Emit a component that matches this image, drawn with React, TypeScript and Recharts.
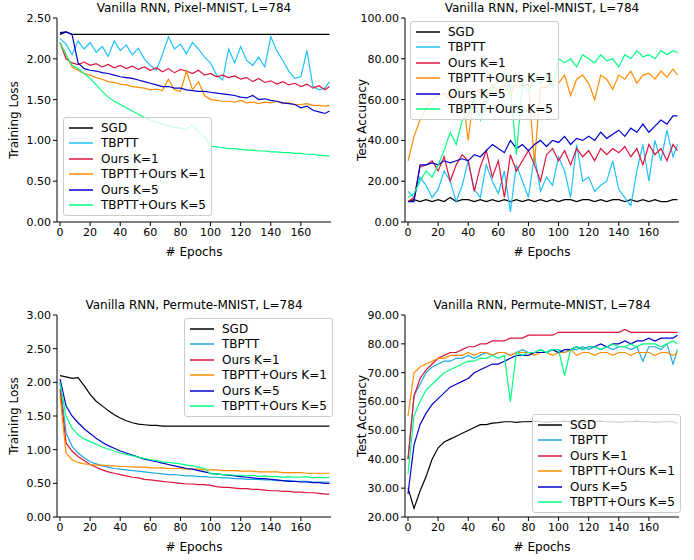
import React from 'react';
import { LineChart, Line, XAxis, YAxis, Legend } from 'recharts';

// epochs sampled every 4, plus last epoch
const EPOCHS = Array.from({ length: 45 }, (_, i) => i * 4).concat(179);
const SERIES_NAMES = ['SGD', 'TBPTT', 'Ours K=1', 'TBPTT+Ours K=1', 'Ours K=5', 'TBPTT+Ours K=5'];
const COLORS = ['#000000', '#1ec0ff', '#dc143c', '#ff8c00', '#0000cd', '#00ff7f'];
const COLORS_B = ['#000000', '#1fa8e0', '#dc143c', '#ff8c00', '#0000cd', '#00ff7f'];

// Pixel-MNIST training loss
const pmLossSgd = [2.30, 2.33, 2.30, 2.30, 2.30, 2.30, 2.30, 2.30, 2.30, 2.30, 2.30, 2.30, 2.30, 2.30, 2.30, 2.30, 2.30, 2.30, 2.30, 2.30, 2.30, 2.30, 2.30, 2.30, 2.30, 2.30, 2.30, 2.30, 2.30, 2.30, 2.30, 2.30, 2.30, 2.30, 2.30, 2.30, 2.30, 2.30, 2.30, 2.30, 2.30, 2.30, 2.30, 2.30, 2.30, 2.30];
const pmLossTbptt = [2.25, 2.18, 2.05, 2.22, 2.12, 2.20, 2.08, 2.15, 2.03, 2.22, 2.10, 2.17, 2.05, 2.13, 2.00, 1.92, 1.86, 2.05, 2.27, 2.12, 2.18, 2.06, 2.20, 2.12, 2.02, 1.95, 1.80, 1.74, 2.12, 1.95, 2.15, 1.98, 1.92, 2.02, 1.90, 2.27, 2.10, 1.98, 1.85, 1.76, 1.78, 2.10, 1.66, 1.62, 1.64, 1.72];
const pmLossOurs1 = [2.20, 2.00, 1.95, 1.93, 1.96, 1.92, 1.94, 1.90, 1.93, 1.89, 1.92, 1.88, 1.91, 1.87, 1.90, 1.86, 1.89, 1.84, 1.88, 1.83, 1.87, 1.85, 1.82, 1.86, 1.80, 1.82, 1.78, 1.80, 1.77, 1.79, 1.75, 1.77, 1.72, 1.76, 1.71, 1.73, 1.69, 1.72, 1.68, 1.70, 1.66, 1.69, 1.64, 1.67, 1.62, 1.66];
const pmLossTo1 = [2.20, 2.05, 1.90, 1.86, 1.82, 1.80, 1.77, 1.75, 1.72, 1.71, 1.69, 1.68, 1.66, 1.65, 1.64, 1.62, 1.63, 1.61, 1.75, 1.62, 1.60, 1.85, 1.62, 1.72, 1.55, 1.50, 1.49, 1.48, 1.48, 1.47, 1.49, 1.46, 1.47, 1.45, 1.47, 1.46, 1.48, 1.45, 1.46, 1.44, 1.44, 1.45, 1.43, 1.43, 1.42, 1.43];
const pmLossOurs5 = [2.32, 2.33, 2.30, 1.95, 1.88, 1.86, 1.85, 1.83, 1.82, 1.80, 1.78, 1.77, 1.76, 1.74, 1.72, 1.70, 1.68, 1.66, 1.66, 1.64, 1.64, 1.62, 1.61, 1.60, 1.60, 1.59, 1.58, 1.57, 1.56, 1.55, 1.53, 1.52, 1.55, 1.50, 1.51, 1.49, 1.48, 1.46, 1.45, 1.44, 1.40, 1.42, 1.37, 1.35, 1.33, 1.36];
const pmLossTo5 = [2.20, 2.05, 1.92, 1.88, 1.82, 1.76, 1.68, 1.60, 1.53, 1.48, 1.44, 1.40, 1.36, 1.32, 1.28, 1.25, 1.22, 1.20, 1.18, 1.16, 1.15, 1.13, 1.20, 1.10, 1.05, 0.93, 0.92, 0.91, 0.90, 0.90, 0.89, 0.88, 0.88, 0.87, 0.87, 0.86, 0.86, 0.85, 0.85, 0.84, 0.84, 0.83, 0.83, 0.82, 0.81, 0.81];

// Pixel-MNIST test accuracy
const pmAccSgd = [10, 11, 10, 11, 10, 11, 10, 12, 10, 11, 11, 10, 11, 10, 11, 10, 11, 10, 11, 10, 11, 10, 11, 10, 11, 10, 11, 11, 10, 11, 11, 10, 11, 10, 11, 11, 10, 11, 10, 11, 10, 11, 10, 10, 11, 11];
const pmAccTbptt = [15, 12, 22, 18, 12, 16, 25, 20, 10, 18, 30, 16, 12, 28, 20, 14, 25, 5, 28, 20, 12, 33, 15, 22, 18, 32, 25, 12, 38, 20, 22, 15, 18, 20, 30, 16, 12, 8, 25, 38, 20, 40, 30, 45, 32, 38];
const pmAccOurs1 = [10, 12, 27, 28, 30, 25, 32, 20, 28, 33, 30, 15, 27, 35, 22, 30, 12, 33, 25, 30, 35, 28, 20, 33, 36, 30, 35, 28, 36, 32, 35, 30, 36, 33, 36, 34, 37, 32, 36, 28, 38, 33, 36, 30, 38, 35];
const pmAccTo1 = [30, 42, 50, 56, 60, 62, 63, 60, 66, 63, 40, 64, 65, 62, 67, 64, 68, 62, 70, 66, 68, 29, 66, 66, 70, 68, 72, 62, 70, 72, 68, 60, 72, 70, 65, 72, 70, 74, 68, 72, 73, 70, 74, 71, 75, 72];
const pmAccOurs5 = [10, 10, 28, 28, 29, 28, 30, 29, 30, 31, 30, 33, 32, 35, 38, 36, 34, 40, 36, 38, 35, 38, 40, 37, 40, 39, 42, 38, 41, 40, 42, 40, 44, 41, 43, 45, 42, 46, 44, 48, 44, 47, 50, 48, 52, 52];
const pmAccTo5 = [12, 14, 20, 25, 22, 28, 35, 44, 38, 50, 52, 60, 50, 58, 65, 70, 73, 66, 33, 68, 64, 70, 68, 72, 66, 80, 78, 80, 76, 82, 80, 78, 82, 79, 80, 76, 82, 80, 84, 81, 82, 80, 84, 82, 84, 83];

// Permute-MNIST training loss
const prLossSgd = [2.10, 2.08, 2.06, 2.07, 1.95, 1.82, 1.72, 1.65, 1.58, 1.52, 1.47, 1.43, 1.40, 1.38, 1.37, 1.36, 1.36, 1.35, 1.35, 1.35, 1.35, 1.35, 1.35, 1.35, 1.35, 1.35, 1.35, 1.35, 1.35, 1.35, 1.35, 1.35, 1.35, 1.35, 1.35, 1.35, 1.35, 1.35, 1.35, 1.35, 1.35, 1.35, 1.35, 1.35, 1.35, 1.35];
const prLossTbptt = [2.00, 1.25, 1.05, 0.95, 0.88, 0.82, 0.79, 0.76, 0.74, 0.72, 0.71, 0.70, 0.69, 0.68, 0.67, 0.66, 0.65, 0.64, 0.63, 0.63, 0.62, 0.61, 0.61, 0.60, 0.60, 0.59, 0.59, 0.58, 0.58, 0.57, 0.57, 0.56, 0.56, 0.56, 0.55, 0.55, 0.54, 0.54, 0.54, 0.53, 0.53, 0.53, 0.52, 0.52, 0.52, 0.52];
const prLossOurs1 = [1.90, 1.10, 0.98, 0.90, 0.84, 0.78, 0.74, 0.70, 0.67, 0.65, 0.63, 0.61, 0.59, 0.58, 0.56, 0.55, 0.54, 0.53, 0.52, 0.51, 0.50, 0.49, 0.49, 0.48, 0.48, 0.47, 0.45, 0.44, 0.44, 0.43, 0.42, 0.42, 0.41, 0.41, 0.40, 0.39, 0.39, 0.38, 0.38, 0.37, 0.37, 0.36, 0.36, 0.35, 0.34, 0.34];
const prLossTo1 = [1.80, 0.95, 0.85, 0.81, 0.79, 0.78, 0.77, 0.77, 0.76, 0.76, 0.75, 0.75, 0.74, 0.74, 0.74, 0.73, 0.73, 0.73, 0.72, 0.72, 0.72, 0.71, 0.71, 0.71, 0.70, 0.70, 0.70, 0.69, 0.69, 0.69, 0.68, 0.68, 0.68, 0.67, 0.67, 0.67, 0.67, 0.66, 0.66, 0.66, 0.66, 0.65, 0.65, 0.65, 0.65, 0.65];
const prLossOurs5 = [2.05, 1.65, 1.50, 1.40, 1.31, 1.24, 1.17, 1.11, 1.06, 1.02, 0.98, 0.95, 0.92, 0.89, 0.86, 0.84, 0.82, 0.80, 0.78, 0.76, 0.74, 0.72, 0.71, 0.69, 0.67, 0.65, 0.64, 0.63, 0.62, 0.61, 0.60, 0.59, 0.58, 0.57, 0.57, 0.56, 0.55, 0.54, 0.53, 0.53, 0.52, 0.52, 0.51, 0.51, 0.50, 0.50];
const prLossTo5 = [2.00, 1.50, 1.32, 1.22, 1.16, 1.12, 1.08, 1.04, 1.01, 0.98, 0.95, 0.93, 0.91, 0.89, 0.87, 0.85, 0.84, 0.82, 0.81, 0.80, 0.79, 0.77, 0.76, 0.74, 0.72, 0.64, 0.64, 0.63, 0.63, 0.62, 0.62, 0.61, 0.62, 0.60, 0.61, 0.60, 0.60, 0.59, 0.60, 0.59, 0.59, 0.60, 0.58, 0.59, 0.58, 0.59];

// Permute-MNIST test accuracy
const prAccSgd = [30, 23, 29, 34, 40, 44, 46, 47, 48, 49, 50, 51, 52, 52, 52.5, 52.7, 53, 53, 52.8, 53, 53, 53.2, 53, 52.8, 53, 53, 53.2, 53, 53, 52.8, 53, 53, 53.2, 53, 53, 52.8, 53, 53, 53.2, 53, 53, 52.8, 53, 53, 53, 52.5];
const prAccTbptt = [40, 62, 66, 70, 72, 73, 74, 74, 75, 75, 76, 75, 76, 77, 76, 77, 77, 76, 77, 78, 77, 77, 78, 77, 78, 78, 77, 78, 78, 79, 78, 79, 78, 79, 78, 79, 79, 78, 79, 74, 79, 79, 78, 80, 73, 78];
const prAccOurs1 = [40, 62, 68, 71, 73, 75, 76, 77, 77, 78, 79, 79, 80, 80, 81, 81, 81, 82, 82, 82, 83, 83, 83, 83, 83, 84, 84, 84, 84, 84, 84, 84, 84, 84, 84, 84, 85, 84, 84, 84, 84, 84, 84, 84, 84, 84];
const prAccTo1 = [55, 70, 72, 73, 74, 75, 75, 76, 76, 76, 77, 76, 77, 77, 76, 77, 77, 76, 77, 77, 77, 76, 77, 77, 76, 77, 77, 78, 76, 77, 77, 76, 77, 77, 76, 77, 77, 76, 77, 77, 77, 76, 77, 77, 76, 77];
const prAccOurs5 = [28, 45, 52, 56, 59, 61, 63, 65, 66, 67, 68, 70, 71, 72, 73, 73, 74, 75, 76, 76, 76, 77, 77, 77, 78, 77, 78, 78, 79, 78, 79, 79, 80, 79, 80, 80, 81, 80, 81, 81, 82, 81, 82, 82, 82, 83];
const prAccTo5 = [35, 55, 60, 64, 66, 68, 70, 71, 72, 73, 74, 74, 75, 75, 76, 75, 76, 60, 77, 76, 77, 77, 78, 77, 78, 78, 69, 78, 79, 78, 79, 79, 78, 79, 80, 79, 79, 80, 79, 80, 80, 80, 79, 80, 81, 80];

const X_TICKS = [0, 20, 40, 60, 80, 100, 120, 140, 160];
const FONT = 'DejaVu Sans, sans-serif';

const buildRows = (series: number[][]) =>
  EPOCHS.map((e, i) => {
    const row: Record<string, number> = { epoch: e };
    series.forEach((s, k) => { row[SERIES_NAMES[k]] = s[i]; });
    return row;
  });

const LegendBox = ({ colors }: { colors: string[] }) => (
  <div style={{
    border: '1px solid #cccccc', borderRadius: 3, background: 'rgba(255,255,255,0.8)',
    padding: '2px 5px 2px 5px', fontFamily: FONT, fontSize: 12, color: '#000', whiteSpace: 'nowrap',
  }}>
    {SERIES_NAMES.map((n, k) => (
      <div key={n} style={{ display: 'flex', alignItems: 'center', height: 15.5 }}>
        <svg width={24} height={6} style={{ marginRight: 8 }}>
          <line x1={0} y1={3} x2={24} y2={3} stroke={colors[k]} strokeWidth={1.5} />
        </svg>
        {n}
      </div>
    ))}
  </div>
);

interface PanelProps {
  left: number; top: number; title: string; yLabel: string;
  series: number[][]; domain: [number, number]; yTicks: number[];
  legendPos: { left: number; top: number }; colors: string[]; xh: number;
}

const Panel = ({ left, top, title, yLabel, series, domain, yTicks, legendPos, colors, xh }: PanelProps) => {
  const data = buildRows(series);
  const tick = { fontSize: 11, fill: '#000', fontFamily: FONT };
  return (
    <div style={{ position: 'absolute', left, top, width: 340, height: 270 }}>
      <div style={{ position: 'absolute', top: 1, left: 57, width: 274, textAlign: 'center', fontFamily: FONT, fontSize: 12 }}>{title}</div>
      <LineChart width={340} height={270} data={data} margin={{ top: 18, right: 9, left: 0, bottom: 0 }}>
        <XAxis dataKey="epoch" type="number" domain={[-2, 180]} ticks={X_TICKS} tick={tick}
          height={xh} stroke="#000" tickSize={4}
          label={{ value: '# Epochs', position: 'insideBottom', offset: xh - 34, style: { fontSize: 12, fill: '#000', fontFamily: FONT } }} />
        <XAxis xAxisId="top" orientation="top" dataKey="epoch" type="number" domain={[-2, 180]} tick={false} tickLine={false} height={0} stroke="#000" />
        <YAxis domain={domain} ticks={yTicks} tick={tick} width={57} stroke="#000" tickSize={4} interval={0}
          tickFormatter={(v: number) => v.toFixed(2)}
          label={{ value: yLabel, angle: -90, position: 'insideLeft', offset: 14, style: { fontSize: 12, fill: '#000', fontFamily: FONT, textAnchor: 'middle' } }} />
        <YAxis yAxisId="right" orientation="right" domain={domain} tick={false} tickLine={false} width={0} stroke="#000" />
        <Legend layout="vertical" align="center" verticalAlign="middle"
          wrapperStyle={{ left: legendPos.left, top: legendPos.top, width: 'auto' }}
          content={() => <LegendBox colors={colors} />} />
        {SERIES_NAMES.map((n, k) => (
          <Line key={n} dataKey={n} stroke={colors[k]} strokeWidth={1.2} dot={false} isAnimationActive={false} type="linear" />
        ))}
      </LineChart>
    </div>
  );
};

export default function App() {
  return (
    <div style={{ position: 'absolute', left: 0, top: 0, width: 694, height: 560, background: '#fff' }}>
      <Panel left={0} top={0} title="Vanilla RNN, Pixel-MNIST, L=784" yLabel="Training Loss"
        series={[pmLossSgd, pmLossTbptt, pmLossOurs1, pmLossTo1, pmLossOurs5, pmLossTo5]}
        domain={[0, 2.5]} yTicks={[0, 0.5, 1, 1.5, 2, 2.5]} legendPos={{ left: 63, top: 117 }} colors={COLORS} xh={48} />
      <Panel left={348} top={0} title="Vanilla RNN, Pixel-MNIST, L=784" yLabel="Test Accuracy"
        series={[pmAccSgd, pmAccTbptt, pmAccOurs1, pmAccTo1, pmAccOurs5, pmAccTo5]}
        domain={[0, 100]} yTicks={[0, 20, 40, 60, 80, 100]} legendPos={{ left: 62, top: 21 }} colors={COLORS} xh={48} />
      <Panel left={0} top={297} title="Vanilla RNN, Permute-MNIST, L=784" yLabel="Training Loss"
        series={[prLossSgd, prLossTbptt, prLossOurs1, prLossTo1, prLossOurs5, prLossTo5]}
        domain={[0, 3]} yTicks={[0, 0.5, 1, 1.5, 2, 2.5, 3]} legendPos={{ left: 184, top: 21 }} colors={COLORS_B} xh={50} />
      <Panel left={348} top={297} title="Vanilla RNN, Permute-MNIST, L=784" yLabel="Test Accuracy"
        series={[prAccSgd, prAccTbptt, prAccOurs1, prAccTo1, prAccOurs5, prAccTo5]}
        domain={[20, 90]} yTicks={[20, 30, 40, 50, 60, 70, 80, 90]} legendPos={{ left: 184, top: 117 }} colors={COLORS_B} xh={50} />
    </div>
  );
}
